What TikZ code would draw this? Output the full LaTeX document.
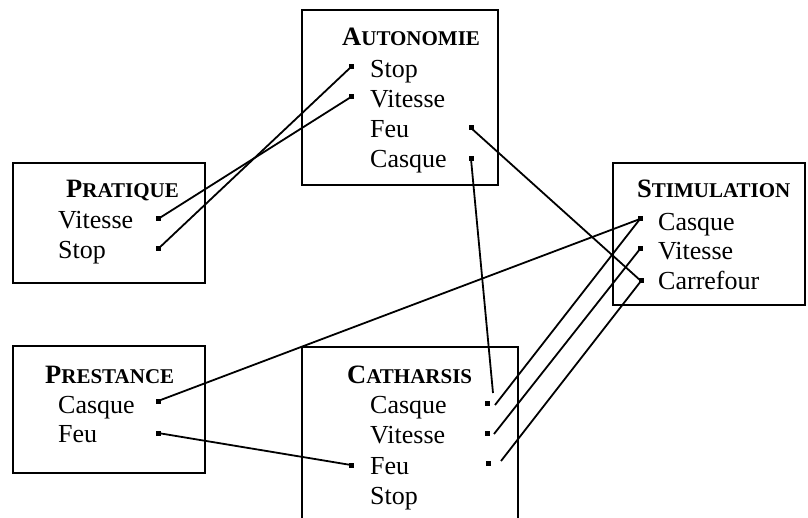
\documentclass[tikz,border=0pt]{standalone}
\usepackage{fontspec}
\setmainfont{Liberation Serif}
\usetikzlibrary{calc}
\newcommand{\sctitle}[2]{\textbf{\fontsize{26.5}{30}\selectfont #1\fontsize{21}{30}\selectfont #2}}
\begin{document}
\begin{tikzpicture}[x=1pt,y=-1pt,
  box/.style={draw, line width=2.2pt, anchor=north west, inner sep=0, outer sep=0},
  item/.style={anchor=base west, inner sep=0, font=\fontsize{26}{30}\selectfont},
  ttl/.style={anchor=base west, inner sep=0},
  dot/.style={fill, inner sep=0, minimum size=5pt, draw=none},
  link/.style={line width=1.8pt}]
\useasboundingbox (0,0) rectangle (808,518);
\clip (0,0) rectangle (808,518);
% boxes
\node[box, minimum width=196pt, minimum height=175pt] (bauto) at (302,10) {};
\node[box, minimum width=192pt, minimum height=120pt] (bprat) at (13,163) {};
\node[box, minimum width=192pt, minimum height=142pt] (bstim) at (613,163) {};
\node[box, minimum width=192pt, minimum height=127pt] (bpres) at (13,346) {};
\node[box, minimum width=216pt, minimum height=190pt] (bcath) at (302,347) {};
% titles
\node[ttl] (tauto) at (342,46) {\sctitle{A}{UTONOMIE}};
\node[ttl] (tprat) at (66,198) {\sctitle{P}{RATIQUE}};
\node[ttl] (tstim) at (637,198) {\sctitle{S}{TIMULATION}};
\node[ttl] (tpres) at (45,383) {\sctitle{P}{RESTANCE}};
\node[ttl] (tcath) at (347,383) {\sctitle{C}{ATHARSIS}};
% items
\node[item] (iaS) at (370,78) {Stop};
\node[item] (iaV) at (370,108) {Vitesse};
\node[item] (iaF) at (370,138) {Feu};
\node[item] (iaC) at (370,168) {Casque};
\node[item] (ipV) at (58,229) {Vitesse};
\node[item] (ipS) at (58,259) {Stop};
\node[item] (isC) at (658,231) {Casque};
\node[item] (isV) at (658,260) {Vitesse};
\node[item] (isR) at (658,290) {Carrefour};
\node[item] (ieC) at (58,413) {Casque};
\node[item] (ieF) at (58,442) {Feu};
\node[item] (icC) at (370,413) {Casque};
\node[item] (icV) at (370,443) {Vitesse};
\node[item] (icF) at (370,474) {Feu};
\node[item] (icS) at (370,504) {Stop};
% dots
\node[dot] (aS) at (351,67) {};
\node[dot] (aV) at (351,97) {};
\node[dot] (aF) at (471,128) {};
\node[dot] (aC) at (471,159) {};
\node[dot] (pV) at (158,219) {};
\node[dot] (pS) at (158,249) {};
\node[dot] (sC) at (640,219) {};
\node[dot] (sV) at (640,249) {};
\node[dot] (sR) at (641,281) {};
\node[dot] (eC) at (158,401) {};
\node[dot] (eF) at (158,433) {};
\node[dot] (cC) at (487,403) {};
\node[dot] (cV) at (487,433) {};
\node[dot] (cF) at (488,463) {};
\node[dot] (cFl) at (351,465) {};
% links
\draw[link] (pV.center) -- (aV.center);
\draw[link] (pS.center) -- (aS.center);
\draw[link] (aF.center) -- (sR.center);
\draw[link] (aC.center) -- ($(cC)+(6,-10)$);
\draw[link] (eC.center) -- (sC.center);
\draw[link] (eF.center) -- (cFl.center);
\draw[link] ($(cC)+(8,2)$) -- (sC.center);
\draw[link] ($(cV)+(7,1)$) -- (sV.center);
\draw[link] ($(cF)+(13,-2)$) -- (sR.center);
\end{tikzpicture}
\end{document}
